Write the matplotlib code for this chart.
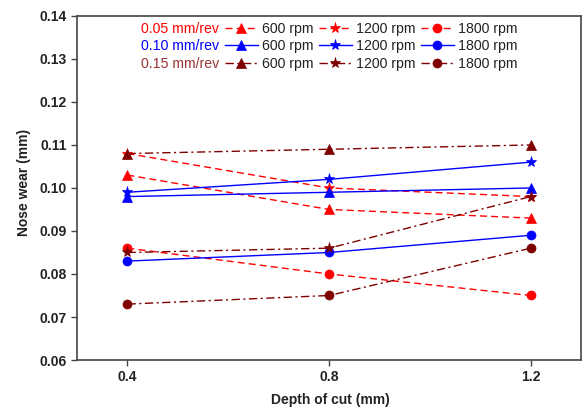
import matplotlib
matplotlib.use("Agg")
import matplotlib.pyplot as plt
from matplotlib.lines import Line2D

plt.rcParams['font.family'] = ['Liberation Sans', 'DejaVu Sans']

# Depth of cut (mm)
depth = [0.4, 0.8, 1.2]

# Feed rates and spindle speeds
feeds = ["0.05 mm/rev", "0.10 mm/rev", "0.15 mm/rev"]
speeds = ["600 rpm", "1200 rpm", "1800 rpm"]

# Nose wear (mm) for each feed rate, per spindle speed
wear_f005_600 = [0.103, 0.095, 0.093]
wear_f005_1200 = [0.108, 0.100, 0.098]
wear_f005_1800 = [0.086, 0.080, 0.075]

wear_f010_600 = [0.098, 0.099, 0.100]
wear_f010_1200 = [0.099, 0.102, 0.106]
wear_f010_1800 = [0.083, 0.085, 0.089]

wear_f015_600 = [0.108, 0.109, 0.110]
wear_f015_1200 = [0.085, 0.086, 0.098]
wear_f015_1800 = [0.073, 0.075, 0.086]

wear = [
    [wear_f005_600, wear_f005_1200, wear_f005_1800],
    [wear_f010_600, wear_f010_1200, wear_f010_1800],
    [wear_f015_600, wear_f015_1200, wear_f015_1800],
]

feed_colors = ["#ff0000", "#0000ff", "#7f0000"]
feed_styles = [(0, (5, 3)), "-", (0, (6, 2.5, 1.5, 2.5))]
speed_markers = ["^", "*", "o"]
marker_sizes = [7, 8, 6.5]

fig = plt.figure(figsize=(5.84, 4.08), dpi=100)
ax = fig.add_axes([0.132, 0.1176, 0.863, 0.8434])

handles = [[None] * 3 for _ in range(3)]
for i in range(3):
    for j in range(3):
        ln, = ax.plot(depth, wear[i][j], color=feed_colors[i],
                      linestyle=feed_styles[i], linewidth=1.0,
                      marker=speed_markers[j], markersize=marker_sizes[j],
                      markeredgewidth=0.5, zorder=2 + i)
        handles[i][j] = ln

ax.set_xlim(0.3, 1.3)
ax.set_ylim(0.06, 0.14)
ax.set_xticks(depth)
ax.set_xticklabels(["0.4", "0.8", "1.2"])
ax.set_yticks([0.06, 0.07, 0.08, 0.09, 0.10, 0.11, 0.12, 0.13, 0.14])
ax.set_yticklabels(["0.06", "0.07", "0.08", "0.09", "0.10", "0.11",
                    "0.12", "0.13", "0.14"])

for side in ["left", "bottom", "top", "right"]:
    ax.spines[side].set_color("#444444")
    ax.spines[side].set_linewidth(1.2)
ax.tick_params(axis="both", direction="out", length=4, width=1.0,
               color="#444444", labelsize=10, labelcolor="#222222")
for lab in ax.get_xticklabels() + ax.get_yticklabels():
    lab.set_fontweight("bold")

ax.set_xlabel("Depth of cut (mm)", fontsize=10, fontweight="bold",
              color="#222222")
ax.set_ylabel("Nose wear (mm)", fontsize=10, fontweight="bold",
              color="#222222")
ax.xaxis.set_label_coords(0.502, -0.095)
ax.yaxis.set_label_coords(-0.092, 0.517)

# Legend: first column holds the feed-rate row labels, then one column per speed
blank = Line2D([], [], linestyle="none", marker=None)
leg_handles = [blank, blank, blank]
leg_labels = list(feeds)
for j in range(3):
    for i in range(3):
        leg_handles.append(handles[i][j])
        leg_labels.append(speeds[j])

leg = ax.legend(leg_handles, leg_labels, ncol=4, loc="upper center",
                bbox_to_anchor=(0.464, 1.012), frameon=False, fontsize=10.2,
                handlelength=2.3, handletextpad=0.3, columnspacing=0.4,
                labelspacing=0.25, borderaxespad=0.3)
texts = leg.get_texts()
for i in range(3):
    texts[i].set_color(feed_colors[i] if i != 2 else "#993333")
for t in texts[3:]:
    t.set_color("#222222")

fig.savefig("out.png", dpi=100)
